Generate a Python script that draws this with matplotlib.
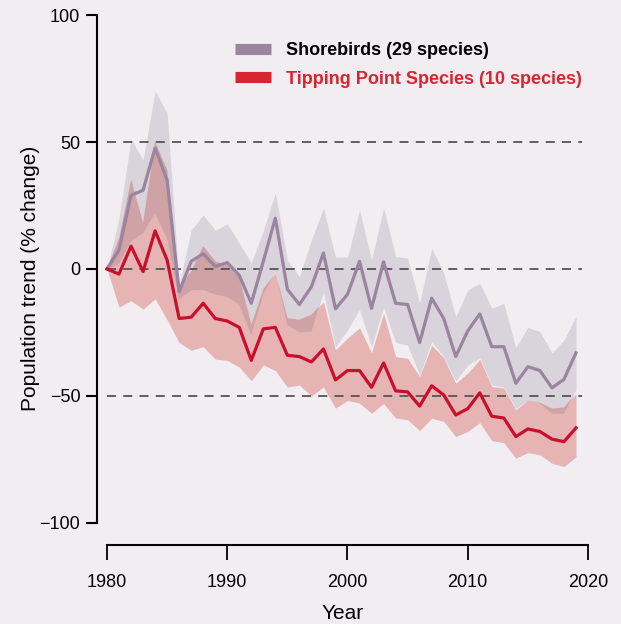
import numpy as np
import matplotlib.pyplot as plt
from matplotlib.lines import Line2D

plt.rcParams['font.family'] = ['Liberation Sans', 'DejaVu Sans']

years = np.arange(1980, 2020)

# shorebirds (29 species) - trend and band
shore_mean = [0, 7.5, 29, 31, 47.6, 35, -9, 3, 6, 1, 2.5, -2.5, -13.5, 3, 20,
              -8, -14, -7, 6.3, -15.7, -10, 3, -15.5, 2.8, -13.5, -14, -29, -11.5,
              -19.5, -34.5, -24.4, -17.7, -30.6, -30.6, -45, -38.5, -40, -46.8, -43.5, -33]
shore_hi = [0, 20, 51, 43, 70, 61.5, -6, 15.3, 21.3, 15.3, 17.7, 10.2, 2.4, 15, 30,
            3.5, -3, 11.4, 24, 4.7, 4.7, 23.2, 3.5, 24, 4.9, 4.3, -13.5, 8.2,
            -1.6, -18.8, -8.3, -5.6, -15.5, -13.5, -31, -23, -24.7, -33, -28, -18.8]
shore_lo = [0, 2, 11, 14, 22, 12, -12, -8.3, -8.3, -10, -11, -14, -26, -10, -1,
            -22, -25, -24.7, -9, -30.6, -24, -16, -30.6, -15, -29, -30, -41.7, -28.6,
            -34.5, -44, -37.8, -35, -45.7, -46.5, -55, -51.6, -52.8, -57, -57, -47.6]

# tipping point species (10 species)
tip_mean = [0, -2, 9, -1, 15, 3.5, -19.5, -19, -13.5, -19.5, -20.5, -23, -36, -23.6, -23,
            -34, -34.5, -36.6, -31.5, -43.7, -40, -40, -46.6, -37, -48, -48.4, -54, -46,
            -49.6, -57.5, -55, -48.8, -58, -58.7, -66, -63, -64, -67, -68, -62.6]
tip_hi = [0, 12, 35, 18, 50, 39, -7, -1, 9, 3, 1.5, -3.5, -22, -8, -1.5,
          -19.4, -20, -18, -13, -31.9, -27.2, -23.2, -33, -17.4, -34.5, -35.2, -42.4, -30,
          -35, -45, -41, -35.6, -46.3, -46.9, -55.5, -51.6, -52.6, -55, -54.5, -49]
tip_lo = [0, -15, -12.5, -15.8, -11.8, -20, -29, -32, -30.6, -35.5, -36, -38.6, -44, -37.8, -40,
          -46.5, -45.7, -50, -46.5, -54.8, -51.8, -52.8, -56.8, -53, -58.7, -59.4, -63.6, -58.8,
          -60, -66, -64, -60.5, -67.6, -68.4, -74.5, -72.3, -73.2, -76.5, -77.8, -74]

labels = ['Shorebirds (29 species)', 'Tipping Point Species (10 species)']

bg = '#f1edf1'
fig = plt.figure(figsize=(6.21, 6.24), dpi=100, facecolor=bg)
ax = fig.add_axes([97 / 621, 1 - 545 / 624, 491 / 621, 532.5 / 624])
ax.set_facecolor(bg)

ax.fill_between(years, shore_lo, shore_hi, color='#d9d3dc', lw=0, zorder=1)
ax.fill_between(years, tip_lo, tip_hi, color='#e5b4b3', lw=0, zorder=1.1)
# overlap of both bands
ov_lo = np.maximum(shore_lo, tip_lo)
ov_hi = np.minimum(shore_hi, tip_hi)
ax.fill_between(years, ov_lo, ov_hi, where=ov_hi > ov_lo, interpolate=True,
                color='#cfa2a6', lw=0, zorder=1.2)

for yv in [50, 0, -50]:
    ax.hlines(yv, 1980, 2019.5, colors='#555555', linestyles=(0, (5, 4)), lw=1.3, zorder=2)

ax.plot(years, shore_mean, color='#9b84a0', lw=2.3, zorder=3)
ax.plot(years, tip_mean, color='#c8102e', lw=2.3, zorder=3.1)

ax.set_xlim(1979.17, 2020)
ax.set_ylim(-108.7, 101)
ax.spines['top'].set_visible(False)
ax.spines['right'].set_visible(False)
ax.spines['left'].set_bounds(-100, 100)
ax.spines['bottom'].set_bounds(1980, 2020)
ax.spines['left'].set_linewidth(1.5)
ax.spines['bottom'].set_linewidth(1.5)
ax.set_xticks([1980, 1990, 2000, 2010, 2020])
ax.set_yticks([-100, -50, 0, 50, 100])
ax.set_yticklabels(['\u2212100', '\u221250', '0', '50', '100'])
ax.tick_params(axis='x', length=11, width=1.3, labelsize=13, pad=10)
ax.tick_params(axis='y', length=8, width=1.5, labelsize=13, pad=4)
ax.set_xlabel('Year', fontsize=15, labelpad=9)
ax.set_ylabel('Population trend (% change)', fontsize=15, labelpad=0)

handles = [Line2D([], [], color='#9b86a0', lw=8, solid_capstyle='butt'),
           Line2D([], [], color='#d7262f', lw=8, solid_capstyle='butt')]
leg = ax.legend(handles, labels, loc='upper left', bbox_to_anchor=(0.248, 0.975),
                frameon=False, fontsize=13, handlelength=2.0, handletextpad=0.8,
                labelspacing=0.65)
leg.get_texts()[0].set_color('black')
leg.get_texts()[1].set_color('#d7262f')
for t in leg.get_texts():
    t.set_fontweight('bold')

fig.savefig('out.png', dpi=100, facecolor=bg)
